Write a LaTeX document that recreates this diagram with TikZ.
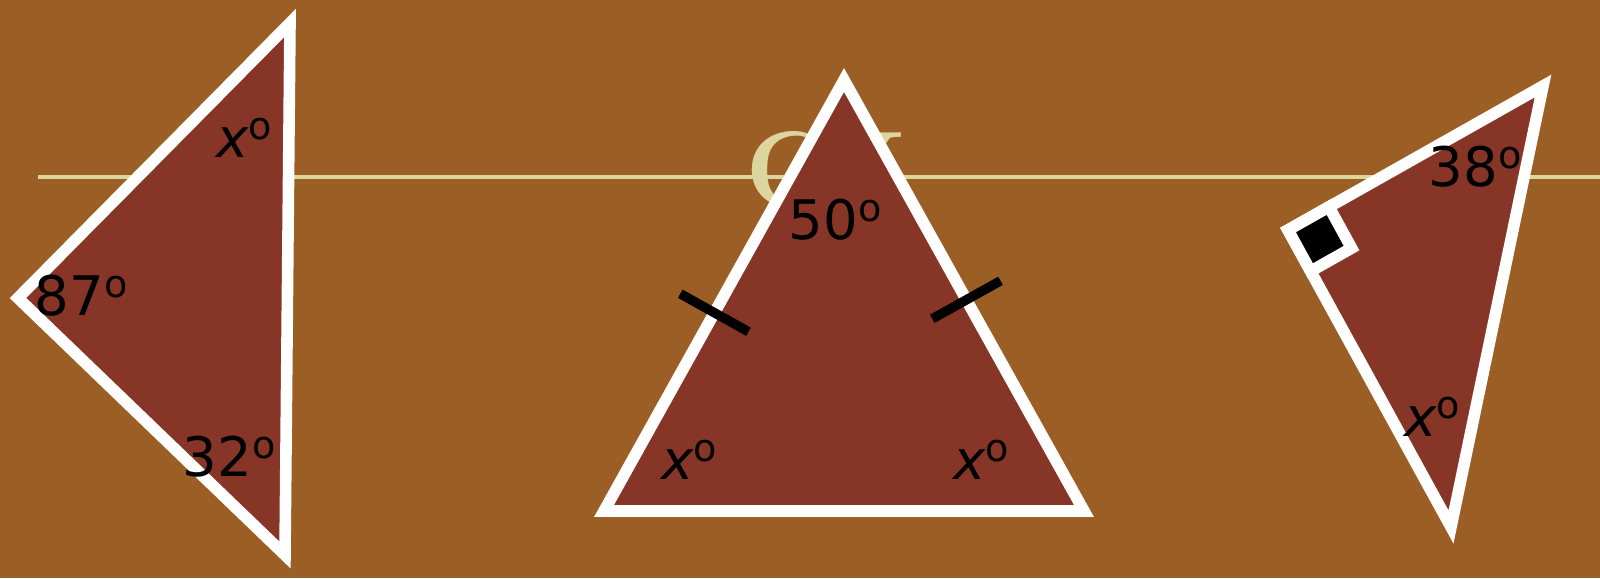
\documentclass[tikz,border=0pt]{standalone}
\usepackage{fontspec}
\newfontfamily\anglefont{DejaVu Sans}
\usetikzlibrary{calc}
\definecolor{leather}{HTML}{9B5E24}
\definecolor{oxblood}{HTML}{873526}
\definecolor{parchment}{HTML}{DDD59E}
\newcommand{\dgr}{\textsuperscript{o}}
\tikzset{
  tri/.style={draw=white, line width=3.3pt, fill=oxblood, line join=miter},
  tickmark/.style={line width=2.7pt, black},
  ang/.style={font=\anglefont\fontsize{15.5}{18}\selectfont, text=black, inner sep=0pt},
}
\begin{document}
\begin{tikzpicture}[x=0.01cm, y=-0.01cm]
    \fill[leather] (0,0) rectangle (1600,578);
    \useasboundingbox (0,0) rectangle (1600,578);
    % title behind the triangles
    \node[anchor=base west, inner sep=0pt, text=parchment, font=\bfseries\fontsize{31}{34}\selectfont] (title) at (745,207) {C\kern-0.22em Y};
    \coordinate (rule-l) at (38,177);
    \coordinate (rule-r) at (1600,177);
    \draw[parchment, line width=0.9pt] (rule-l) -- (rule-r);

    % left triangle
    \coordinate (a1) at (290,23);
    \coordinate (a2) at (18,298);
    \coordinate (a3) at (285,555);
    \draw[tri] (a1) -- (a2) -- (a3) -- cycle;
    \node[ang] (a1lbl) at (245,138) {\textit{x}\dgr};
    \node[ang] (a2lbl) at (82,296) {87\dgr};
    \node[ang] (a3lbl) at (230,457) {32\dgr};

    % isosceles triangle
    \coordinate (b1) at (844,80);
    \coordinate (b2) at (604,511);
    \coordinate (b3) at (1084,511);
    \draw[tri] (b1) -- (b2) -- (b3) -- cycle;
    \coordinate (m1) at ($(b1)!0.54!(b2)$);
    \coordinate (m2) at ($(b1)!0.51!(b3)$);
    \draw[tickmark] ($(m1)!0.39cm!90:(b2)$) -- ($(m1)!0.39cm!-90:(b2)$);
    \draw[tickmark] ($(m2)!0.39cm!90:(b3)$) -- ($(m2)!0.39cm!-90:(b3)$);
    \node[ang] (b1lbl) at (836,220) {50\dgr};
    \node[ang] (b2lbl) at (690,460) {\textit{x}\dgr};
    \node[ang] (b3lbl) at (982,460) {\textit{x}\dgr};

    % right-angled triangle
    \coordinate (c1) at (1543,86);
    \coordinate (c2) at (1288,230);
    \coordinate (c3) at (1451,527);
    \draw[tri] (c1) -- (c2) -- (c3) -- cycle;
    \coordinate (p) at ($(c2)!0.47cm!(c1)$);
    \coordinate (q) at ($(c2)!0.47cm!(c3)$);
    \draw[draw=white, line width=3.3pt, fill=black] (c2) -- (p) -- ($(p)+(q)-(c2)$) -- (q) -- cycle;
    \node[ang] (c1lbl) at (1476,167) {38\dgr};
    \node[ang] (c3lbl) at (1433,417) {\textit{x}\dgr};
\end{tikzpicture}
\end{document}
